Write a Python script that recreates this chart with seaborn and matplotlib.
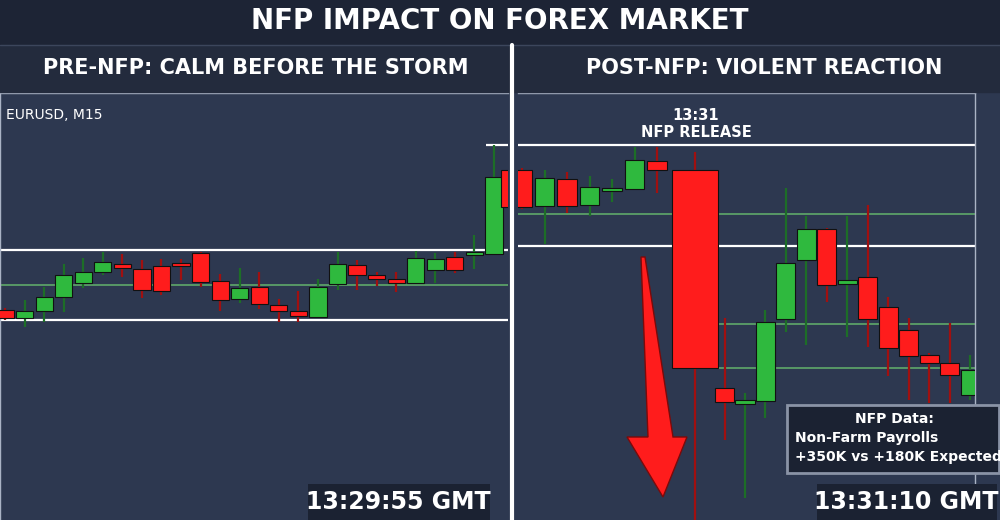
import matplotlib
matplotlib.use("Agg")
import matplotlib.pyplot as plt
import seaborn as sns
import numpy as np
from matplotlib.patches import Rectangle, Polygon

sns.set_theme(style="dark")
plt.rcParams['font.family'] = ['DejaVu Sans']

# Price values (screen-scale units, higher number = lower price; axis inverted)
pre_open  = [310,318,311,297,283,272,264,269,266,263,253,281,299,287,305,311,317,284,265,275,279,283,270,257,255,254]
pre_close = [318,311,297,275,272,262,268,290,291,266,282,300,288,304,311,316,287,264,275,279,283,258,259,270,252,177]
pre_high  = [308,300,287,264,258,252,254,260,259,259,252,274,268,272,299,291,279,252,260,272,272,251,253,252,235,145]
pre_low   = [320,327,322,312,288,275,277,298,295,280,287,311,303,309,322,322,318,290,290,286,292,283,283,273,269,254]

post_open  = [170,206,179,205,191,189,161,170,388,404,401,319,260,229,284,277,307,330,355,363,395]
post_close = [207,178,206,187,188,160,170,368,402,400,322,263,229,285,280,319,348,356,363,375,370]
post_high  = [168,170,172,176,179,147,147,152,318,393,310,188,216,228,216,205,297,318,353,323,355]
post_low   = [209,244,213,216,202,190,193,540,440,498,418,332,345,302,337,347,376,400,403,403,400]

GREEN = "#2fb93e"; RED = "#ff1c1c"
BG = "#1d2435"; PANEL = "#2d3850"

fig = plt.figure(figsize=(10, 5.2), dpi=100, facecolor=BG)

def candles(ax, x, o, c, h, l, w=0.88, wide_thresh=None):
    o, c, h, l = map(np.array, (o, c, h, l))
    up = c < o  # inverted axis: smaller = higher price
    cols = np.where(up, GREEN, RED)
    ax.vlines(x, h, l, colors=np.where(up, "#1d6e27", "#a01010"), lw=1.6, zorder=2)
    widths = np.full(len(o), w)
    if wide_thresh is not None:
        widths[np.abs(c - o) > wide_thresh] = 2.05
    ax.bar(x, c - o, bottom=o, width=widths, color=cols, edgecolor="#111111", lw=0.8, zorder=3)

bgax = fig.add_axes([0, 0, 1, (520-93)/520]); bgax.set_facecolor(PANEL)
bgax.set_xticks([]); bgax.set_yticks([])
for s in bgax.spines.values(): s.set_visible(False)

# Left panel
axL = fig.add_axes([0.0, 0.0, 0.508, (520-93)/520])
axL.set_facecolor(PANEL)
sp = 19.56
axL.set_xlim(-5/sp, (508-5)/sp)
axL.set_ylim(520, 93)
for yv, col, lw in [(250, "white", 1.6), (285, "#5fa86a", 1.2), (320, "white", 1.6)]:
    axL.axhline(yv, color=col, lw=lw, zorder=1)
axL.hlines(145, 24.6, 26, color="white", lw=1.6)
candles(axL, np.arange(len(pre_open)), pre_open, pre_close, pre_high, pre_low)
axL.bar([25.8], [37], bottom=[170], width=0.88, color=RED, edgecolor="#111", lw=0.8, zorder=3)
axL.set_xticks([]); axL.set_yticks([])
for s in axL.spines.values():
    s.set_color("#aab3c5"); s.set_linewidth(1)
axL.spines['right'].set_visible(False); axL.spines['bottom'].set_visible(False)
axL.text(0.012, 0.965, "EURUSD, M15", transform=axL.transAxes, color="white", fontsize=10, va="top")

# Right panel
axR = fig.add_axes([0.518, 0.0, 0.975-0.518, (520-93)/520])
axR.set_facecolor(PANEL)
spR = 22.5
idx = np.arange(len(post_open), dtype=float)
xR = np.where(idx >= 8, 9.0 + (idx - 8) * 0.91, idx + 0.7 * (idx >= 7))
axR.set_xlim(-(522-518)/spR, (975-522)/spR)
axR.set_ylim(520, 93)
axR.axhline(145, color="white", lw=1.6, zorder=1)
axR.axhline(214, color="#5fa86a", lw=1.2, zorder=1)
axR.axhline(246, color="white", lw=1.6, zorder=1)
axR.axhline(324, xmin=0.44, color="#5fa86a", lw=1.2, zorder=1)
axR.axhline(368, xmin=0.44, color="#5fa86a", lw=1.2, zorder=1)
candles(axR, xR, post_open, post_close, post_high, post_low, w=0.85, wide_thresh=100)
axR.set_xticks([]); axR.set_yticks([])
for s in axR.spines.values():
    s.set_color("#aab3c5"); s.set_linewidth(1)
axR.spines['bottom'].set_visible(False); axR.spines['left'].set_visible(False)

# overlay (figure pixel coords)
ov = fig.add_axes([0, 0, 1, 1], facecolor="none")
ov.set_xlim(0, 1000); ov.set_ylim(520, 0); ov.axis("off")
ov.add_patch(Rectangle((0, 0), 1000, 45, color=BG, zorder=1))
ov.add_patch(Rectangle((0, 45), 1000, 47, color="#232b3d", zorder=1))
ov.plot([0, 1000], [45, 45], color="#3c465c", lw=1)
ov.text(500, 21, "NFP IMPACT ON FOREX MARKET", color="white", fontsize=20, fontweight="bold", ha="center", va="center", zorder=3)
ov.text(256, 68, "PRE-NFP: CALM BEFORE THE STORM", color="white", fontsize=15, fontweight="bold", ha="center", va="center", zorder=3)
ov.text(764, 68, "POST-NFP: VIOLENT REACTION", color="white", fontsize=15, fontweight="bold", ha="center", va="center", zorder=3)
ov.plot([512, 512], [45, 520], color="white", lw=3, zorder=4)
ov.text(696, 124, "13:31\nNFP RELEASE", color="white", fontsize=10.5, fontweight="bold", ha="center", va="center", linespacing=1.1, zorder=5)
ov.add_patch(Polygon([(641, 257), (645, 257), (673, 437), (687, 437), (663, 497), (627, 437), (648, 437)],
                     closed=True, facecolor=RED, edgecolor="#7a0a0a", lw=1, zorder=5))
ov.add_patch(Rectangle((787, 405), 212, 68, facecolor="#1b2232", edgecolor="#8a93a6", lw=2, zorder=5))
ov.text(894, 419, "NFP Data:", color="white", fontsize=10, fontweight="bold", ha="center", va="center", zorder=6)
ov.text(795, 438, "Non-Farm Payrolls", color="white", fontsize=10, fontweight="bold", ha="left", va="center", zorder=6)
ov.text(795, 457, "+350K vs +180K Expected", color="white", fontsize=10, fontweight="bold", ha="left", va="center", zorder=6)
ov.add_patch(Rectangle((308, 484), 182, 36, facecolor="#1b2232", edgecolor="none", zorder=5))
ov.text(398, 502, "13:29:55 GMT", color="white", fontsize=17, fontweight="bold", ha="center", va="center", zorder=6)
ov.add_patch(Rectangle((817, 484), 180, 36, facecolor="#1b2232", edgecolor="none", zorder=5))
ov.text(906, 502, "13:31:10 GMT", color="white", fontsize=17, fontweight="bold", ha="center", va="center", zorder=6)

fig.savefig("out.png", dpi=100, facecolor=BG)
